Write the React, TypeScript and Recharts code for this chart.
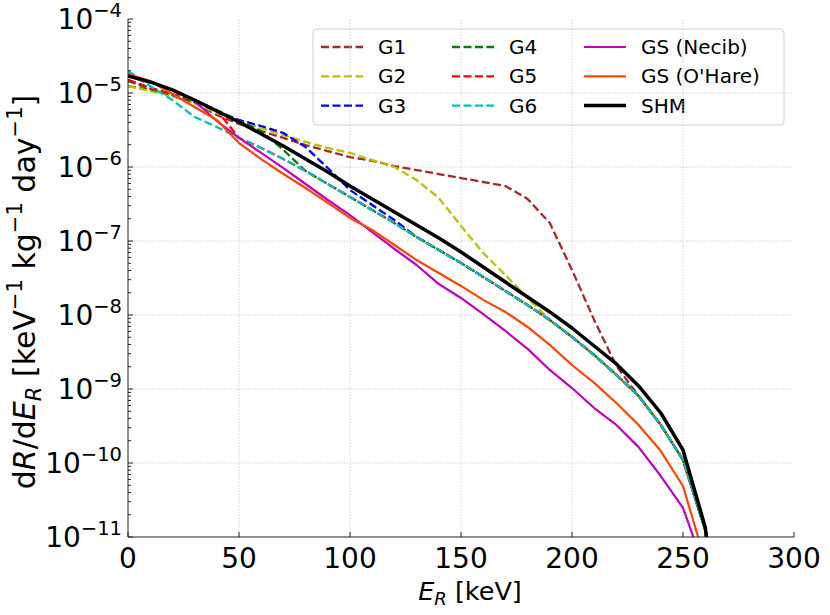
import React from 'react';
import { LineChart, Line, XAxis, YAxis, ReferenceLine, Customized } from 'recharts';

const energies = [0, 10, 20, 30, 40, 50, 60, 70, 80, 90, 100, 110, 120, 130, 140, 150, 160, 170, 180, 190, 200, 210, 220, 230, 240, 250, 260, 262];

const g1 = [1.24e-5, 1.10e-5, 9.10e-6, 7.33e-6, 5.05e-6, 3.81e-6, 3.06e-6, 2.47e-6, 1.98e-6, 1.64e-6, 1.36e-6, 1.21e-6, 1.03e-6, 9.10e-7, 8.04e-7, 7.10e-7, 6.27e-7, 5.53e-7, 3.70e-7, 1.75e-7, 4.06e-8, 8.55e-9, 2.05e-9, 8.04e-10, 3.27e-10, 1.10e-10, 1.24e-11, 4e-12];
const g2 = [1.24e-5, 1.06e-5, 9.10e-6, 7.33e-6, 5.37e-6, 4.19e-6, 3.37e-6, 2.70e-6, 2.18e-6, 1.81e-6, 1.55e-6, 1.24e-6, 1.00e-6, 6.67e-7, 3.81e-7, 1.60e-7, 6.89e-8, 3.48e-8, 1.70e-8, 8.55e-9, 5.05e-9, 2.88e-9, 1.55e-9, 8.04e-10, 3.27e-10, 1.10e-10, 1.24e-11, 4e-12];
const g3 = [1.50e-5, 1.17e-5, 9.40e-6, 7.55e-6, 5.71e-6, 4.32e-6, 3.58e-6, 2.88e-6, 1.86e-6, 9.68e-7, 4.89e-7, 3.06e-7, 1.92e-7, 1.13e-7, 7.55e-8, 5.05e-8, 3.27e-8, 2.11e-8, 1.36e-8, 8.55e-9, 5.05e-9, 2.88e-9, 1.55e-9, 8.04e-10, 3.27e-10, 1.10e-10, 1.24e-11, 4e-12];
const g4 = [1.45e-5, 1.13e-5, 9.40e-6, 7.55e-6, 5.89e-6, 4.19e-6, 3.06e-6, 1.70e-6, 8.83e-7, 5.89e-7, 3.94e-7, 2.62e-7, 1.75e-7, 1.13e-7, 7.55e-8, 5.05e-8, 3.27e-8, 2.11e-8, 1.36e-8, 8.55e-9, 5.05e-9, 2.88e-9, 1.55e-9, 8.04e-10, 3.27e-10, 1.10e-10, 1.24e-11, 4e-12];
const g5 = [1.50e-5, 1.17e-5, 9.68e-6, 8.04e-6, 5.89e-6, 2.47e-6, 1.81e-6, 1.28e-6, 8.83e-7, 5.89e-7, 3.94e-7, 2.62e-7, 1.75e-7, 1.13e-7, 7.55e-8, 5.05e-8, 3.27e-8, 2.11e-8, 1.36e-8, 8.55e-9, 5.05e-9, 2.88e-9, 1.55e-9, 8.04e-10, 3.27e-10, 1.10e-10, 1.24e-11, 4e-12];
const g6 = [1.98e-5, 1.24e-5, 8.04e-6, 4.74e-6, 3.48e-6, 2.47e-6, 1.81e-6, 1.28e-6, 8.83e-7, 5.89e-7, 3.94e-7, 2.62e-7, 1.75e-7, 1.13e-7, 7.55e-8, 5.05e-8, 3.27e-8, 2.11e-8, 1.36e-8, 8.55e-9, 5.05e-9, 2.88e-9, 1.55e-9, 8.04e-10, 3.27e-10, 1.10e-10, 1.24e-11, 4e-12];
const gsNecib = [1.70e-5, 1.41e-5, 1.10e-5, 7.80e-6, 4.19e-6, 2.47e-6, 1.55e-6, 9.68e-7, 5.89e-7, 3.58e-7, 2.24e-7, 1.32e-7, 7.80e-8, 4.74e-8, 2.62e-8, 1.70e-8, 1.03e-8, 6.08e-9, 3.48e-9, 1.81e-9, 1.03e-9, 5.53e-10, 3.27e-10, 1.64e-10, 6.67e-11, 2.47e-11, 3.58e-12, null];
const gsOHare = [1.81e-5, 1.45e-5, 9.68e-6, 6.47e-6, 4.32e-6, 2.11e-6, 1.28e-6, 8.04e-7, 5.20e-7, 3.27e-7, 2.05e-7, 1.41e-7, 8.83e-8, 5.53e-8, 3.70e-8, 2.47e-8, 1.60e-8, 1.10e-8, 6.89e-9, 3.94e-9, 2.11e-9, 1.21e-9, 6.47e-10, 3.27e-10, 1.45e-10, 4.89e-11, 4.74e-12, null];
const shm = [1.70e-5, 1.41e-5, 1.10e-5, 8.04e-6, 5.71e-6, 4.06e-6, 2.79e-6, 1.92e-6, 1.28e-6, 8.55e-7, 5.53e-7, 3.70e-7, 2.47e-7, 1.64e-7, 1.10e-7, 7.10e-8, 4.46e-8, 2.79e-8, 1.75e-8, 1.10e-8, 6.67e-9, 3.81e-9, 2.18e-9, 1.10e-9, 4.74e-10, 1.50e-10, 1.36e-11, 5e-12];

const xTicks = [0, 50, 100, 150, 200, 250, 300];
const yMajorTicks = [1e-11, 1e-10, 1e-9, 1e-8, 1e-7, 1e-6, 1e-5, 1e-4];
const yExponents = ['−11', '−10', '−9', '−8', '−7', '−6', '−5', '−4'];
const minorMultipliers = [2, 3, 4, 5, 6, 7, 8, 9];

const seriesDefs = [
  { key: 'G1', label: 'G1', color: '#a52a2a', dashed: true, width: 2.3 },
  { key: 'G2', label: 'G2', color: '#bfbf00', dashed: true, width: 2.3 },
  { key: 'G3', label: 'G3', color: '#0000ff', dashed: true, width: 2.3 },
  { key: 'G4', label: 'G4', color: '#008000', dashed: true, width: 2.3 },
  { key: 'G5', label: 'G5', color: '#ff0000', dashed: true, width: 2.3 },
  { key: 'G6', label: 'G6', color: '#00bfbf', dashed: true, width: 2.3 },
  { key: 'GSN', label: 'GS (Necib)', color: '#bf00bf', dashed: false, width: 2.2 },
  { key: 'GSO', label: "GS (O'Hare)", color: '#ff4500', dashed: false, width: 2.2 },
  { key: 'SHM', label: 'SHM', color: '#000000', dashed: false, width: 3.5 },
];
const seriesValues = { G1: g1, G2: g2, G3: g3, G4: g4, G5: g5, G6: g6, GSN: gsNecib, GSO: gsOHare, SHM: shm };

const data = energies.map((e, i) => {
  const row: any = { E: e };
  for (const s of seriesDefs) row[s.key] = (seriesValues as any)[s.key][i];
  return row;
});

const minorTicks: number[] = [];
for (let i = 0; i < yMajorTicks.length - 1; i++) {
  for (const m of minorMultipliers) minorTicks.push(m * yMajorTicks[i]);
}
const allYTicks = [...yMajorTicks, ...minorTicks].sort((a, b) => a - b);

const FONT = 'DejaVu Sans, sans-serif';
const DASH = '8 3.5';

const YTick = (props: any) => {
  const { x, y, payload } = props;
  const v = payload.value;
  const idx = yMajorTicks.findIndex((t) => Math.abs(t - v) / t < 1e-6);
  const major = idx >= 0;
  return (
    <g>
      <line x1={x} x2={x + (major ? 5 : 3)} y1={y} y2={y} stroke="#222" strokeWidth={1} />
      {major && (
        <text x={x - 6} y={y + 10} textAnchor="end" fontSize={28} fontFamily={FONT} fill="#000">
          10
          <tspan dy={-12} fontSize={19.5}>{yExponents[idx]}</tspan>
        </text>
      )}
    </g>
  );
};

const XTick = (props: any) => {
  const { x, y, payload } = props;
  return (
    <g>
      <line x1={x} x2={x} y1={y} y2={y - 5} stroke="#222" strokeWidth={1} />
      <text x={x} y={y + 31} textAnchor="middle" fontSize={28} fontFamily={FONT} fill="#000">
        {payload.value}
      </text>
    </g>
  );
};

const legendRows = [
  [0, 3, 6],
  [1, 4, 7],
  [2, 5, 8],
];
const legendColX = [321, 452, 584];

const Decorations = () => (
  <g fontFamily={FONT}>
    <text x={470} y={600} textAnchor="middle" fontSize={25.5} fill="#000">
      <tspan fontStyle="italic">E</tspan>
      <tspan fontStyle="italic" fontSize={18} dy={5}>R</tspan>
      <tspan dy={-5}> [keV]</tspan>
    </text>
    <text transform="translate(35,292) rotate(-90)" textAnchor="middle" fontSize={30} fill="#000">
      d<tspan fontStyle="italic">R</tspan>/d<tspan fontStyle="italic">E</tspan>
      <tspan fontStyle="italic" fontSize={21} dy={6}>R</tspan>
      <tspan dy={-6}> [keV</tspan>
      <tspan fontSize={21} dy={-13}>−1</tspan>
      <tspan dy={13}> kg</tspan>
      <tspan fontSize={21} dy={-13}>−1</tspan>
      <tspan dy={13}> day</tspan>
      <tspan fontSize={21} dy={-13}>−1</tspan>
      <tspan dy={13}>]</tspan>
    </text>
    <rect x={313} y={29} width={471} height={96} rx={4} ry={4} fill="#ffffff" fillOpacity={0.85} stroke="#d0d0d0" strokeWidth={1} />
    {legendRows.map((row, r) =>
      row.map((si, c) => {
        const s = seriesDefs[si];
        const cy = 47 + r * 29.3;
        const lx = legendColX[c];
        return (
          <g key={s.key}>
            <line
              x1={lx}
              x2={lx + 42}
              y1={cy}
              y2={cy}
              stroke={s.color}
              strokeWidth={s.width}
              strokeDasharray={s.dashed ? DASH : undefined}
            />
            <text x={lx + 57} y={cy + 7} fontSize={20} fill="#000">
              {s.label}
            </text>
          </g>
        );
      })
    )}
  </g>
);

export default function App() {
  return (
    <div style={{ position: 'absolute', left: 0, top: 0, width: 830, height: 615, background: '#fff' }}>
      <LineChart width={830} height={615} data={data} margin={{ top: 19, right: 36, bottom: 0, left: 0 }}>
        <XAxis
          dataKey="E"
          type="number"
          domain={[0, 300]}
          ticks={xTicks}
          interval={0}
          tickSize={0}
          tickMargin={0}
          tickLine={false}
          tick={<XTick />}
          height={78}
          axisLine={{ stroke: '#222', strokeWidth: 1 }}
          allowDataOverflow
        />
        <XAxis xAxisId="top" orientation="top" type="number" domain={[0, 300]} height={0} tick={false} tickLine={false} axisLine={{ stroke: '#222', strokeWidth: 1 }} />
        <YAxis
          scale="log"
          type="number"
          domain={[1e-11, 1e-4]}
          ticks={allYTicks}
          interval={0}
          tickSize={0}
          tickMargin={0}
          tickLine={false}
          tick={<YTick />}
          width={128}
          allowDataOverflow
          axisLine={{ stroke: '#222', strokeWidth: 1 }}
        />
        <YAxis yAxisId="right" orientation="right" width={0} tick={false} tickLine={false} axisLine={{ stroke: '#222', strokeWidth: 1 }} />
        {xTicks.slice(1, -1).map((t) => (
          <ReferenceLine key={'vx' + t} x={t} stroke="#c4c4c4" strokeWidth={0.8} strokeDasharray="1.5 1.5" />
        ))}
        {yMajorTicks.slice(1, -1).map((t) => (
          <ReferenceLine key={'hy' + t} y={t} stroke="#c4c4c4" strokeWidth={0.8} strokeDasharray="1.5 1.5" />
        ))}
        {seriesDefs.map((s) => (
          <Line
            key={s.key}
            dataKey={s.key}
            type="linear"
            stroke={s.color}
            strokeWidth={s.width}
            strokeDasharray={s.dashed ? DASH : undefined}
            dot={false}
            activeDot={false}
            isAnimationActive={false}
            strokeLinejoin="round"
          />
        ))}
        <Customized component={Decorations} />
      </LineChart>
    </div>
  );
}
